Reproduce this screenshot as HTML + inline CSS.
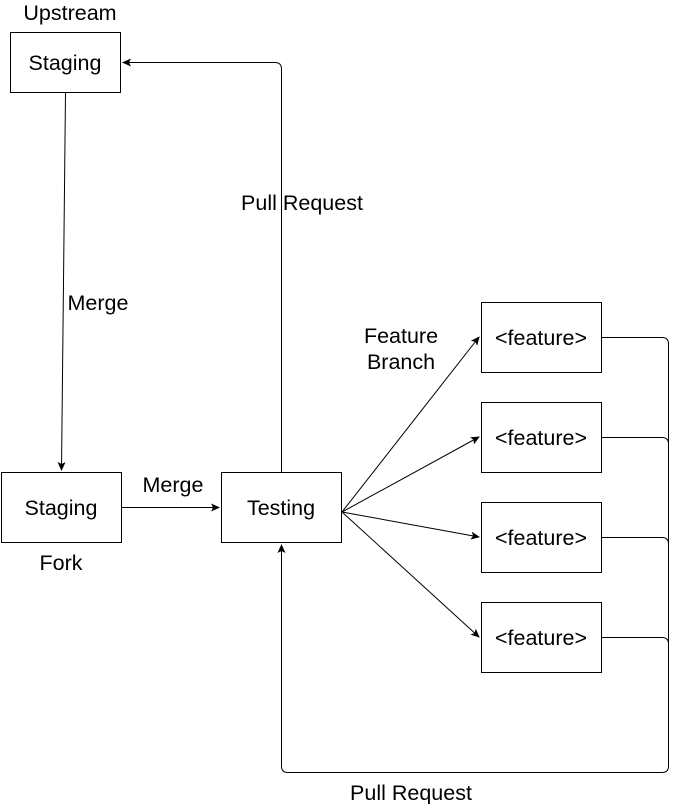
<!DOCTYPE html>
<html><head><style>body{margin:0;background:#fff}svg{display:block}</style></head><body>
<svg width="679" height="804" xmlns="http://www.w3.org/2000/svg" font-family="Liberation Sans, sans-serif" font-size="21.5">
<defs><marker id="a" markerWidth="10" markerHeight="10" refX="8" refY="4" orient="auto" markerUnits="userSpaceOnUse"><path d="M0,0 L9,4 L0,8 L2,4 z" fill="#000"/></marker></defs>
<g fill="#fff" stroke="#000" stroke-width="1">
<rect x="10.5" y="32.5" width="110" height="60"/>
<rect x="1.5" y="472.5" width="120" height="70"/>
<rect x="221.5" y="472.5" width="120" height="70"/>
<rect x="481.5" y="302.5" width="120" height="70"/>
<rect x="481.5" y="402.5" width="120" height="70"/>
<rect x="481.5" y="502.5" width="120" height="70"/>
<rect x="481.5" y="602.5" width="120" height="70"/>
</g>
<g fill="none" stroke="#000" stroke-width="1">
<path d="M65.5,93 L61.5,470" marker-end="url(#a)"/>
<path d="M122,507.5 L219,507.5" marker-end="url(#a)"/>
<path d="M281.5,472 L281.5,69 Q281.5,62.5 275,62.5 L123,62.5" marker-end="url(#a)"/>
<path d="M342,512 L479,337" marker-end="url(#a)"/>
<path d="M342,512 L479,437" marker-end="url(#a)"/>
<path d="M342,512 L479,537" marker-end="url(#a)"/>
<path d="M342,512 L479,637" marker-end="url(#a)"/>
<path d="M602,337.5 L662,337.5 Q668.5,337.5 668.5,344 L668.5,766 Q668.5,772.5 662,772.5 L288,772.5 Q281.5,772.5 281.5,766 L281.5,545" marker-end="url(#a)"/>
<path d="M602,437.5 L662,437.5 Q668.5,437.5 668.5,444"/>
<path d="M602,537.5 L662,537.5 Q668.5,537.5 668.5,544"/>
<path d="M602,637.5 L662,637.5 Q668.5,637.5 668.5,644"/>
</g>
<g fill="#000" text-anchor="middle">
<text x="70" y="20">Upstream</text>
<text x="65" y="70">Staging</text>
<text x="61" y="515">Staging</text>
<text x="61" y="570">Fork</text>
<text x="281" y="515">Testing</text>
<text x="173" y="492">Merge</text>
<text x="98" y="310">Merge</text>
<text x="302" y="210">Pull Request</text>
<text x="411" y="800">Pull Request</text>
<text x="401" y="343">Feature</text>
<text x="401" y="369">Branch</text>
<text x="541" y="345">&lt;feature&gt;</text>
<text x="541" y="445">&lt;feature&gt;</text>
<text x="541" y="545">&lt;feature&gt;</text>
<text x="541" y="645">&lt;feature&gt;</text>
</g>
</svg>
</body></html>
